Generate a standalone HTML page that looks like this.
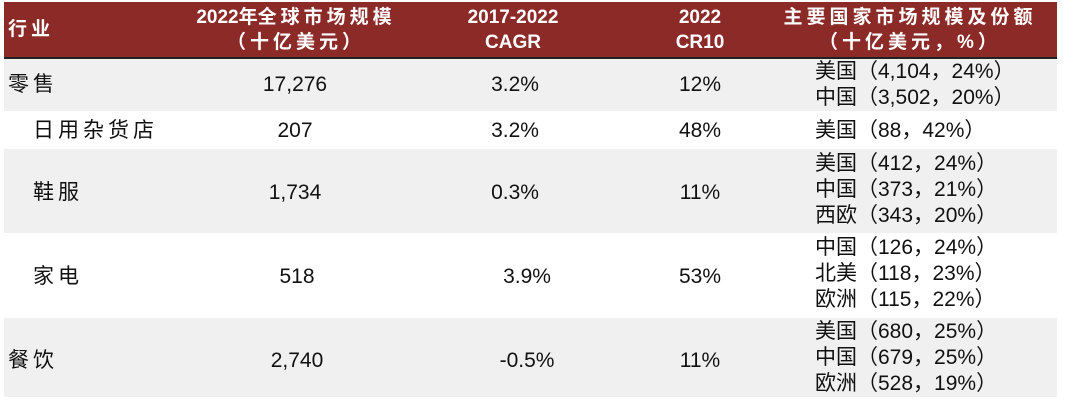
<!DOCTYPE html>
<html><head><meta charset="utf-8"><style>
body{margin:0;width:1080px;height:408px;background:#fff;position:relative;overflow:hidden;font-family:"Liberation Sans","Noto Sans CJK SC",sans-serif;color:#111;}
.hd{position:absolute;left:4px;top:2px;width:1053px;height:55px;background:#8c2a28;}
.ln{position:absolute;left:4px;top:57px;width:1053px;height:2px;background:#222;}
.g{position:absolute;left:4px;width:1053px;background:#f0f0f0;}
.t{position:absolute;font-size:21px;line-height:26px;white-space:nowrap;}
.c{transform:translateX(-50%);text-align:center;}
.h{color:#fff;font-weight:bold;font-size:19px;line-height:25px;}
.cj{letter-spacing:4px;}
.cs{letter-spacing:0px;}
</style></head><body>
<div class="hd"></div><div class="ln"></div>
<div class="g" style="top:59px;height:52px"></div>
<div class="g" style="top:149px;height:84px"></div>
<div class="g" style="top:318px;height:79px"></div>

<div class="t h cj" style="left:8px;top:17px">行业</div>
<div class="t h c" style="left:296px;top:5px">2022年<span class="cj">全球市场规模</span><br><span class="cj">（十亿美元）</span></div>
<div class="t h c" style="left:513px;top:5px">2017-2022<br>CAGR</div>
<div class="t h c" style="left:700px;top:5px">2022<br>CR10</div>
<div class="t h c cj" style="left:910px;top:5px">主要国家市场规模及份额<br>（十亿美元，%）</div>

<div class="t cj" style="left:8px;top:72px">零售</div>
<div class="t c" style="left:295px;top:72px">17,276</div>
<div class="t c" style="left:515px;top:72px">3.2%</div>
<div class="t c" style="left:700px;top:72px">12%</div>
<div class="t cs" style="left:815px;top:59px">美国（4,104，24%）<br>中国（3,502，20%）</div>

<div class="t cj" style="left:33px;top:118px">日用杂货店</div>
<div class="t c" style="left:295px;top:118px">207</div>
<div class="t c" style="left:515px;top:118px">3.2%</div>
<div class="t c" style="left:700px;top:118px">48%</div>
<div class="t cs" style="left:815px;top:118px">美国（88，42%）</div>

<div class="t cj" style="left:33px;top:180px">鞋服</div>
<div class="t c" style="left:295px;top:180px">1,734</div>
<div class="t c" style="left:515px;top:180px">0.3%</div>
<div class="t c" style="left:700px;top:180px">11%</div>
<div class="t cs" style="left:815px;top:151px">美国（412，24%）<br>中国（373，21%）<br>西欧（343，20%）</div>

<div class="t cj" style="left:33px;top:264px">家电</div>
<div class="t c" style="left:297px;top:264px">518</div>
<div class="t c" style="left:527px;top:264px">3.9%</div>
<div class="t c" style="left:700px;top:264px">53%</div>
<div class="t cs" style="left:815px;top:235px">中国（126，24%）<br>北美（118，23%）<br>欧洲（115，22%）</div>

<div class="t cj" style="left:8px;top:348px">餐饮</div>
<div class="t c" style="left:297px;top:348px">2,740</div>
<div class="t c" style="left:527px;top:348px">-0.5%</div>
<div class="t c" style="left:700px;top:348px">11%</div>
<div class="t cs" style="left:815px;top:319px">美国（680，25%）<br>中国（679，25%）<br>欧洲（528，19%）</div>
</body></html>
